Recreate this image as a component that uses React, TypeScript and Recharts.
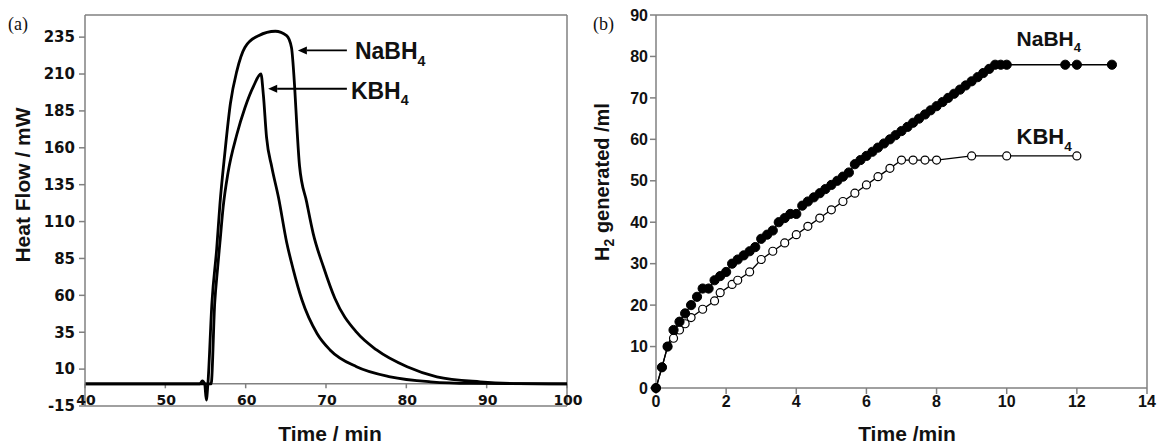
import React from "react";
import {
  LineChart,
  Line,
  XAxis,
  YAxis,
  CartesianGrid,
  ReferenceLine,
  ReferenceDot,
} from "recharts";

// (a) heat flow curves, time in min, heat flow in mW
const naHeatT = [40, 45, 50, 54.3, 54.6, 54.9, 55.1, 55.3, 55.8, 56.4, 56.8, 57.4, 58.1, 58.9, 59.9, 61.6, 63.7, 65.1, 65.7, 66.1, 66.4, 66.7, 67.6, 68.4, 69.7, 71.1, 73.8, 76.3, 80.1, 83.8, 89.2, 94, 100];
const naHeatV = [0, 0, 0, 0, 2, 0, -11, 0, 55, 92, 122, 156, 190, 212, 228, 236, 239, 236, 228, 201, 172, 148, 123, 102, 79, 58, 35, 23, 11.6, 4.8, 1.4, 0.2, 0];
const kHeatT = [40, 45, 50, 55, 55.7, 56.15, 56.5, 56.8, 57.2, 57.8, 58.9, 59.9, 61.0, 61.9, 62.2, 62.6, 63.25, 64.1, 65.1, 65.9, 67.0, 68.9, 70.5, 73.8, 78, 83, 88, 100];
const kHeatV = [0, 0, 0, 0, 0, 55, 78, 96, 120, 143, 169, 187, 202, 210, 196, 167, 147, 126, 96, 78, 57, 34, 23, 11.6, 4.8, 1.4, 0.3, 0];
const X_TICKS_A = [40, 50, 60, 70, 80, 90, 100];
const Y_TICKS_A = [-15, 10, 35, 60, 85, 110, 135, 160, 185, 210, 235];

// (b) hydrogen volume, time in min, volume in ml
const naGasT = [0, 0.17, 0.33, 0.5, 0.67, 0.83, 1, 1.17, 1.33, 1.5, 1.67, 1.83, 2, 2.17, 2.33, 2.5, 2.67, 2.83, 3, 3.17, 3.33, 3.5, 3.67, 3.83, 4, 4.17, 4.33, 4.5, 4.67, 4.83, 5, 5.17, 5.33, 5.5, 5.67, 5.83, 6, 6.17, 6.33, 6.5, 6.67, 6.83, 7, 7.17, 7.33, 7.5, 7.67, 7.83, 8, 8.17, 8.33, 8.5, 8.67, 8.83, 9, 9.17, 9.33, 9.5, 9.67, 9.83, 10, 11.67, 12, 13];
const naGasV = [0, 5, 10, 14, 16, 18, 20, 22, 24, 24, 26, 27, 28, 30, 31, 32, 33, 34, 36, 37, 38, 40, 41, 42, 42, 44, 45, 46, 47, 48, 49, 50, 51, 52, 54, 55, 56, 57, 58, 59, 60, 61, 62, 63, 64, 65, 66, 67, 68, 69, 70, 71, 72, 73, 74, 75, 76, 77, 78, 78, 78, 78, 78, 78];
const kGasT = [0, 0.17, 0.33, 0.5, 0.67, 0.83, 1, 1.33, 1.67, 1.83, 2.17, 2.33, 2.67, 3, 3.33, 3.67, 4, 4.33, 4.67, 5, 5.33, 5.67, 6, 6.33, 6.67, 7, 7.33, 7.67, 8, 9, 10, 12];
const kGasV = [0, 5, 10, 12, 14, 15.5, 17, 19, 21, 23, 25, 26, 28, 31, 33, 35, 37, 39, 41, 43, 45, 47, 49, 51, 53, 55, 55, 55, 55, 56, 56, 56];
const X_TICKS_B = [0, 2, 4, 6, 8, 10, 12, 14];
const Y_TICKS_B = [0, 10, 20, 30, 40, 50, 60, 70, 80, 90];

const zip = (t: number[], v: number[]) => t.map((x, i) => ({ t: x, v: v[i] }));

const naHeat = zip(naHeatT, naHeatV);
const kHeat = zip(kHeatT, kHeatV);
const naGas = zip(naGasT, naGasV);
const kGas = zip(kGasT, kGasV);

const SANS = "'Liberation Sans', Arial, sans-serif";
const WIDE = "'DejaVu Sans', sans-serif";
const AXIS = "#808080";

// top and right edges of the plot box, taken from the chart offset
const topEdge = ({ offset }: any) => [offset.top];
const rightEdge = ({ offset }: any) => [offset.left + offset.width];

// arrow drawn from (x1,y1) tail to (x2,y2) head
const Arrow = (p: any) => {
  const { x1, y1, x2, y2 } = p;
  const dx = x2 - x1;
  const dy = y2 - y1;
  const len = Math.hypot(dx, dy) || 1;
  const ux = dx / len;
  const uy = dy / len;
  const hl = 9;
  const hw = 4;
  const bx = x2 - ux * hl;
  const by = y2 - uy * hl;
  return (
    <g>
      <line x1={x1} y1={y1} x2={bx} y2={by} stroke="#000" strokeWidth={1.8} />
      <polygon
        points={`${x2},${y2} ${bx - uy * hw},${by + ux * hw} ${bx + uy * hw},${by - ux * hw}`}
        fill="#000"
      />
    </g>
  );
};

const formula = (base: string, size: number) => (p: any) => (
  <text
    x={p.cx}
    y={p.cy + size * 0.36}
    fontFamily={SANS}
    fontWeight="bold"
    fontSize={size}
    fill="#111"
  >
    {base}
    <tspan dy={size * 0.3} fontSize={size * 0.62}>
      4
    </tspan>
  </text>
);

const BottomTickA = (p: any) => (
  <text
    x={p.x + 1}
    y={p.y - 1}
    textAnchor="middle"
    fontFamily={WIDE}
    fontWeight="bold"
    fontSize={14}
    fill="#111"
  >
    {p.payload.value}
  </text>
);

const titleStyle = { fontFamily: SANS, fontWeight: "bold" as const, fill: "#111" };

const HeatTitle = () => (
  <text
    x={23}
    y={192}
    transform="rotate(-90 23 185)"
    textAnchor="middle"
    fontSize={21}
    {...titleStyle}
  >
    Heat Flow / mW
  </text>
);

const GasTitle = () => (
  <text
    x={22}
    y={189}
    transform="rotate(-90 22 182)"
    textAnchor="middle"
    fontSize={20}
    {...titleStyle}
  >
    H<tspan dy={5} fontSize={14}>2</tspan>
    <tspan dy={-5}> generated /ml</tspan>
  </text>
);

const TimeTitle = (text: string, cx: number) => () => (
  <text x={cx} y={441} textAnchor="middle" fontSize={21} {...titleStyle}>
    {text}
  </text>
);

const panelTag: React.CSSProperties = {
  position: "absolute",
  top: 14,
  fontFamily: "'Liberation Serif', serif",
  fontSize: 18,
  lineHeight: "20px",
  color: "#111",
};

const frame = { stroke: AXIS, strokeWidth: 1.5 };

export default function App() {
  return (
    <div style={{ position: "absolute", left: 0, top: 0, width: 1160, height: 445, background: "#fff" }}>
      <div style={{ position: "absolute", left: 0, top: 0 }}>
        <LineChart width={600} height={445} margin={{ top: 15, right: 33, bottom: 0, left: 0 }}>
          <CartesianGrid
            stroke={AXIS}
            strokeWidth={1.5}
            horizontalCoordinatesGenerator={topEdge}
            verticalCoordinatesGenerator={rightEdge}
          />
          <XAxis
            type="number"
            dataKey="t"
            domain={[40, 100]}
            ticks={X_TICKS_A}
            height={39}
            axisLine={frame}
            tickLine={false}
            tickSize={0}
            tickMargin={0}
            tick={BottomTickA}
            label={TimeTitle("Time / min", 330)}
          />
          <YAxis
            type="number"
            dataKey="v"
            domain={[-15, 250]}
            ticks={Y_TICKS_A}
            width={85}
            axisLine={frame}
            tickLine={frame}
            tickSize={6}
            tickMargin={4}
            tick={{ fill: "#111", fontSize: 15, fontWeight: "bold", fontFamily: WIDE }}
            label={HeatTitle}
          />
          <ReferenceLine y={0} {...frame} />
          {X_TICKS_A.map((t) => (
            <ReferenceLine key={t} segment={[{ x: t, y: 0 }, { x: t, y: -3 }]} ifOverflow="visible" {...frame} />
          ))}
          <Line data={kHeat} dataKey="v" type="monotone" stroke="#000" strokeWidth={2.8} dot={false} isAnimationActive={false} />
          <Line data={naHeat} dataKey="v" type="monotone" stroke="#000" strokeWidth={2.8} dot={false} isAnimationActive={false} />
          <ReferenceLine segment={[{ x: 72.6, y: 226 }, { x: 66.5, y: 226 }]} shape={Arrow} />
          <ReferenceLine segment={[{ x: 72.6, y: 200 }, { x: 62.8, y: 200 }]} shape={Arrow} />
          <ReferenceDot x={73.6} y={226} r={0} shape={formula("NaBH", 23)} />
          <ReferenceDot x={73.1} y={199} r={0} shape={formula("KBH", 23)} />
        </LineChart>
        <div style={{ ...panelTag, left: 8 }}>(a)</div>
      </div>

      <div style={{ position: "absolute", left: 580, top: 0 }}>
        <LineChart width={580} height={445} margin={{ top: 15, right: 13, bottom: 0, left: 0 }}>
          <CartesianGrid
            stroke={AXIS}
            strokeWidth={1.5}
            horizontalCoordinatesGenerator={topEdge}
            verticalCoordinatesGenerator={rightEdge}
          />
          <XAxis
            type="number"
            dataKey="t"
            domain={[0, 14]}
            ticks={X_TICKS_B}
            height={57}
            axisLine={frame}
            tickLine={frame}
            tickSize={6}
            tickMargin={2}
            tick={{ fill: "#111", fontSize: 16, fontWeight: "bold", fontFamily: SANS }}
            label={TimeTitle("Time /min", 327)}
          />
          <YAxis
            type="number"
            dataKey="v"
            domain={[0, 90]}
            ticks={Y_TICKS_B}
            width={76}
            axisLine={frame}
            tickLine={frame}
            tickSize={6}
            tickMargin={2}
            tick={{ fill: "#111", fontSize: 16, fontWeight: "bold", fontFamily: SANS }}
            label={GasTitle}
          />
          <Line
            data={kGas}
            dataKey="v"
            type="linear"
            stroke="#000"
            strokeWidth={1.3}
            dot={{ r: 4, fill: "#fff", stroke: "#000", strokeWidth: 1.2 }}
            isAnimationActive={false}
          />
          <Line
            data={naGas}
            dataKey="v"
            type="linear"
            stroke="#000"
            strokeWidth={1.3}
            dot={{ r: 4.6, fill: "#000", stroke: "#000", strokeWidth: 1 }}
            isAnimationActive={false}
          />
          <ReferenceDot x={10.28} y={84.3} r={0} shape={formula("NaBH", 21)} />
          <ReferenceDot x={10.28} y={60.7} r={0} shape={formula("KBH", 22)} />
        </LineChart>
        <div style={{ ...panelTag, left: 13 }}>(b)</div>
      </div>
    </div>
  );
}
